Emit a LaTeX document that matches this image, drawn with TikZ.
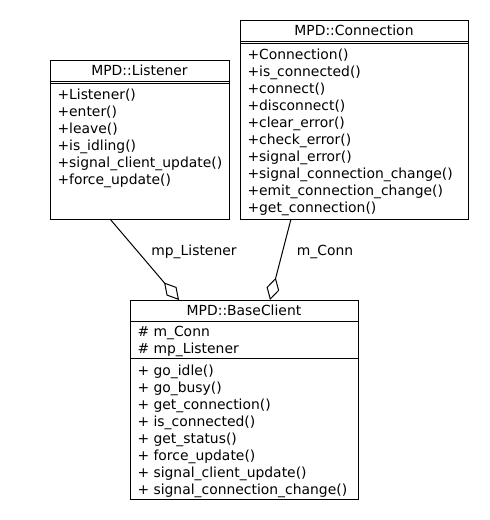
\documentclass[tikz,border=0pt]{standalone}
\usepackage{fontspec}
\setmainfont{DejaVu Sans}
\usetikzlibrary{arrows.meta}
\begin{document}
\begin{tikzpicture}[x=1pt,y=-1pt,line width=1pt,
  box/.style={draw,line width=1pt,anchor=north west,inner sep=0pt,outer sep=0pt},
  txt/.style={anchor=base west,inner sep=0pt,font=\fontsize{13.9}{16}\selectfont},
  ttl/.style={anchor=base,inner sep=0pt,font=\fontsize{13.9}{16}\selectfont},
  lbl/.style={inner sep=0pt,font=\fontsize{13.9}{16}\selectfont},
  agg/.style={-{Diamond[open,length=23pt,width=13pt,line width=1pt]}}]
\useasboundingbox (0,0) rectangle (490,520);
\fill[white] (0,0) rectangle (490,520);

% Listener
\node[box,minimum width=179pt,minimum height=159pt] (lis) at (50,60) {};
\draw (50,81) -- (229,81);
\draw (50,83) -- (229,83);
\node[ttl] (lisT) at (139.5,75.5) {MPD::Listener};
\node[txt] (l1) at (57,99.5) {+Listener()};
\node[txt] (l2) at (57,116.5) {+enter()};
\node[txt] (l3) at (57,133.5) {+leave()};
\node[txt] (l4) at (57,150.5) {+is\_idling()};
\node[txt] (l5) at (57,167.5) {+signal\_client\_update()};
\node[txt] (l6) at (57,184.5) {+force\_update()};

% Connection
\node[box,minimum width=228pt,minimum height=199pt] (con) at (240,20) {};
\draw (240,41) -- (468,41);
\draw (240,43) -- (468,43);
\node[ttl] (conT) at (354,35.5) {MPD::Connection};
\node[txt] (c1) at (247,59.5) {+Connection()};
\node[txt] (c2) at (247,76.5) {+is\_connected()};
\node[txt] (c3) at (247,93.5) {+connect()};
\node[txt] (c4) at (247,110.5) {+disconnect()};
\node[txt] (c5) at (247,127.5) {+clear\_error()};
\node[txt] (c6) at (247,144.5) {+check\_error()};
\node[txt] (c7) at (247,161.5) {+signal\_error()};
\node[txt] (c8) at (247,178.5) {+signal\_connection\_change()};
\node[txt] (c9) at (247,195.5) {+emit\_connection\_change()};
\node[txt] (c10) at (247,212.5) {+get\_connection()};

% BaseClient
\node[box,minimum width=228pt,minimum height=199pt] (bc) at (130,300) {};
\draw (130,321) -- (358,321);
\draw (130,358) -- (358,358);
\node[ttl] (bcT) at (244,315.5) {MPD::BaseClient};
\node[txt] (a1) at (137,336) {\# m\_Conn};
\node[txt] (a2) at (137,353) {\# mp\_Listener};
\node[txt] (b1) at (137,375) {+ go\_idle()};
\node[txt] (b2) at (137,392) {+ go\_busy()};
\node[txt] (b3) at (137,409) {+ get\_connection()};
\node[txt] (b4) at (137,426) {+ is\_connected()};
\node[txt] (b5) at (137,443) {+ get\_status()};
\node[txt] (b6) at (137,460) {+ force\_update()};
\node[txt] (b7) at (137,477) {+ signal\_client\_update()};
\node[txt] (b8) at (137,494) {+ signal\_connection\_change()};

% connectors
\coordinate (la) at (110,219);
\coordinate (lb) at (179,300);
\draw[agg] (la) -- (lb);
\coordinate (ca) at (291,219);
\coordinate (cb) at (270,300);
\draw[agg] (ca) -- (cb);
\node[lbl] (lblL) at (194,252) {mp\_Listener};
\node[lbl] (lblC) at (325,252) {m\_Conn};
\end{tikzpicture}
\end{document}
